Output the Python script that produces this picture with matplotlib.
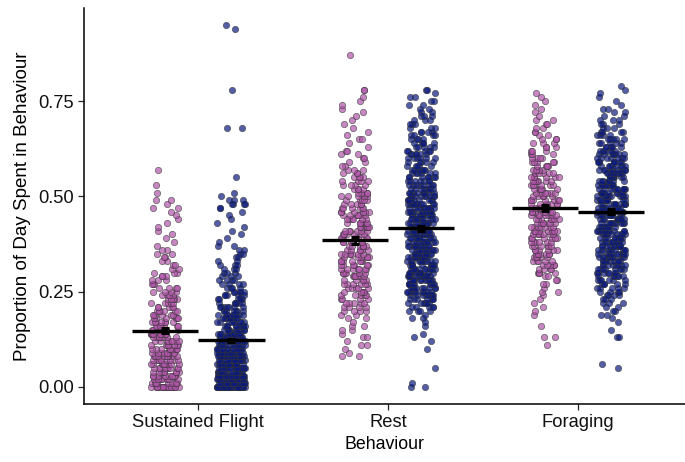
import numpy as np
import matplotlib.pyplot as plt

plt.rcParams['font.family'] = ['Liberation Sans', 'DejaVu Sans']

behaviours = ['Sustained Flight', 'Rest', 'Foraging']

# proportion levels 0.00 .. 0.95, counts of days at each level
levels = np.round(np.arange(96) * 0.01, 2)

flight_pink = [21, 9, 9, 9, 9, 9, 9, 9, 9, 9,
               9, 8, 8, 8, 8, 7, 7, 7, 6, 6,
               6, 5, 5, 5, 4, 4, 4, 3, 3, 3,
               3, 2, 2, 2, 2, 2, 2, 1, 1, 1,
               1, 1, 1, 1, 1, 1, 1, 2, 1, 2,
               0, 1, 0, 1, 0, 0, 0, 1, 0, 0] + [0] * 36
flight_blue = [50, 22, 22, 22, 22, 22, 22, 22, 22, 22,
               16, 15, 14, 13, 12, 11, 10, 9, 8, 8,
               7, 7, 6, 6, 5, 5, 4, 4, 4, 3,
               3, 3, 3, 2, 2, 2, 2, 2, 1, 1,
               1, 1, 1, 1, 1, 1, 1, 2, 4, 3,
               1, 1, 0, 0, 0, 1, 0, 0, 0, 0,
               0, 0, 0, 0, 0, 0, 0, 0, 2, 0,
               0, 0, 0, 0, 0, 0, 0, 0, 1, 0,
               0, 0, 0, 0, 0, 0, 0, 0, 0, 0,
               0, 0, 0, 0, 1, 1]
rest_pink = [0, 0, 0, 0, 0, 0, 0, 0, 2, 1,
             1, 2, 1, 2, 1, 2, 2, 1, 2, 2,
             4, 4, 5, 4, 5, 5, 5, 6, 5, 6,
             6, 7, 6, 7, 6, 7, 6, 7, 6, 7,
             7, 6, 7, 6, 6, 6, 6, 6, 5, 5,
             5, 5, 4, 4, 4, 4, 3, 3, 2, 2,
             2, 2, 2, 1, 1, 2, 1, 1, 1, 1,
             1, 1, 1, 1, 1, 1, 1, 0, 2, 0,
             0, 0, 0, 0, 0, 0, 0, 1, 0, 0] + [0] * 6
rest_blue = [2, 1, 0, 0, 0, 1, 0, 0, 0, 0,
             1, 0, 1, 1, 1, 0, 1, 1, 2, 1,
             4, 5, 6, 7, 8, 9, 10, 10, 11, 11,
             11, 11, 11, 11, 11, 11, 11, 11, 11, 11,
             11, 11, 11, 11, 11, 11, 11, 11, 11, 11,
             9, 9, 8, 8, 7, 7, 6, 6, 5, 5,
             6, 6, 5, 5, 5, 4, 4, 4, 3, 3,
             3, 3, 2, 2, 2, 2, 2, 1, 2, 0] + [0] * 16
forage_pink = [0, 0, 0, 0, 0, 0, 0, 0, 0, 0,
               0, 1, 0, 2, 0, 0, 1, 0, 0, 1,
               1, 1, 1, 1, 1, 2, 1, 2, 2, 2,
               4, 4, 5, 5, 5, 6, 6, 6, 6, 6,
               7, 7, 7, 7, 7, 7, 7, 7, 7, 7,
               6, 6, 6, 6, 6, 6, 5, 5, 5, 5,
               4, 3, 3, 3, 3, 3, 2, 2, 2, 2,
               2, 1, 1, 1, 1, 1, 1, 1, 0, 0] + [0] * 16
forage_blue = [0, 0, 0, 0, 0, 1, 1, 0, 0, 0,
               0, 0, 0, 2, 0, 1, 0, 1, 1, 2,
               2, 2, 3, 3, 4, 4, 5, 5, 6, 6,
               7, 8, 8, 9, 9, 10, 10, 10, 10, 10,
               10, 10, 10, 10, 10, 10, 10, 10, 10, 10,
               10, 10, 10, 10, 9, 9, 9, 8, 8, 8,
               7, 7, 6, 6, 5, 5, 4, 4, 3, 3,
               3, 2, 2, 2, 1, 1, 1, 1, 1, 1] + [0] * 16

pink_groups = [flight_pink, rest_pink, forage_pink]
blue_groups = [flight_blue, rest_blue, forage_blue]

mean_pink = [0.148, 0.385, 0.469]
mean_blue = [0.122, 0.416, 0.460]
se_pink = [0.007, 0.009, 0.008]
se_blue = [0.005, 0.007, 0.006]

pink = '#b054a9'
blue = '#0a1a7f'

fig = plt.figure(figsize=(6.85, 4.62), dpi=100)
ax = fig.add_axes([84 / 685, 1 - 404 / 462, 1 - 84 / 685, 396 / 462])

dodge = 0.175
jit = 0.075
x = np.arange(1, 4)


def spread(n, seed):
    # deterministic hash in [0, 1) for horizontal jitter
    k = np.arange(n) + seed * 1000
    return (np.sin(k * 12.9898 + 78.233) * 43758.5453) % 1.0


for i in range(3):
    for j, (counts, col, side) in enumerate([(pink_groups[i], pink, -1),
                                              (blue_groups[i], blue, 1)]):
        vals = np.repeat(levels, counts)
        u = spread(len(vals), 2 * i + j)
        xs = x[i] + side * dodge + (u - 0.5) * 2 * jit
        ax.scatter(xs, vals, s=21, c=col, alpha=0.7, edgecolors='#333333',
                   linewidths=0.5, zorder=2)

# mean bars + se
for i in range(3):
    for m, se, side in [(mean_pink[i], se_pink[i], -1), (mean_blue[i], se_blue[i], 1)]:
        cx = x[i] + side * dodge
        ax.hlines(m, cx - dodge, cx + dodge, colors='black', linewidth=2.4, zorder=3)
        ax.errorbar(cx, m, yerr=se, fmt='none', ecolor='black', elinewidth=2.2,
                    capsize=3, capthick=2.2, zorder=4)

ax.set_xlim(0.4, 0.4 + 601 / 190)
ax.set_ylim(-0.0446, 0.994)
ax.set_xticks(x)
ax.set_xticklabels(behaviours)
ax.set_yticks([0, 0.25, 0.5, 0.75])
ax.set_yticklabels(['0.00', '0.25', '0.50', '0.75'])
ax.tick_params(labelsize=13.2, colors='#222222', length=4, width=0.9)
ax.tick_params(axis='both', labelcolor='#111111')
for s in ['top', 'right']:
    ax.spines[s].set_visible(False)
for s in ['left', 'bottom']:
    ax.spines[s].set_linewidth(1.1)
    ax.spines[s].set_color('black')

ax.set_xlabel('Behaviour', fontsize=12.8, labelpad=3)
ax.set_ylabel('Proportion of Day Spent in Behaviour', fontsize=13.5, labelpad=5)

fig.savefig('out.png', dpi=100)
